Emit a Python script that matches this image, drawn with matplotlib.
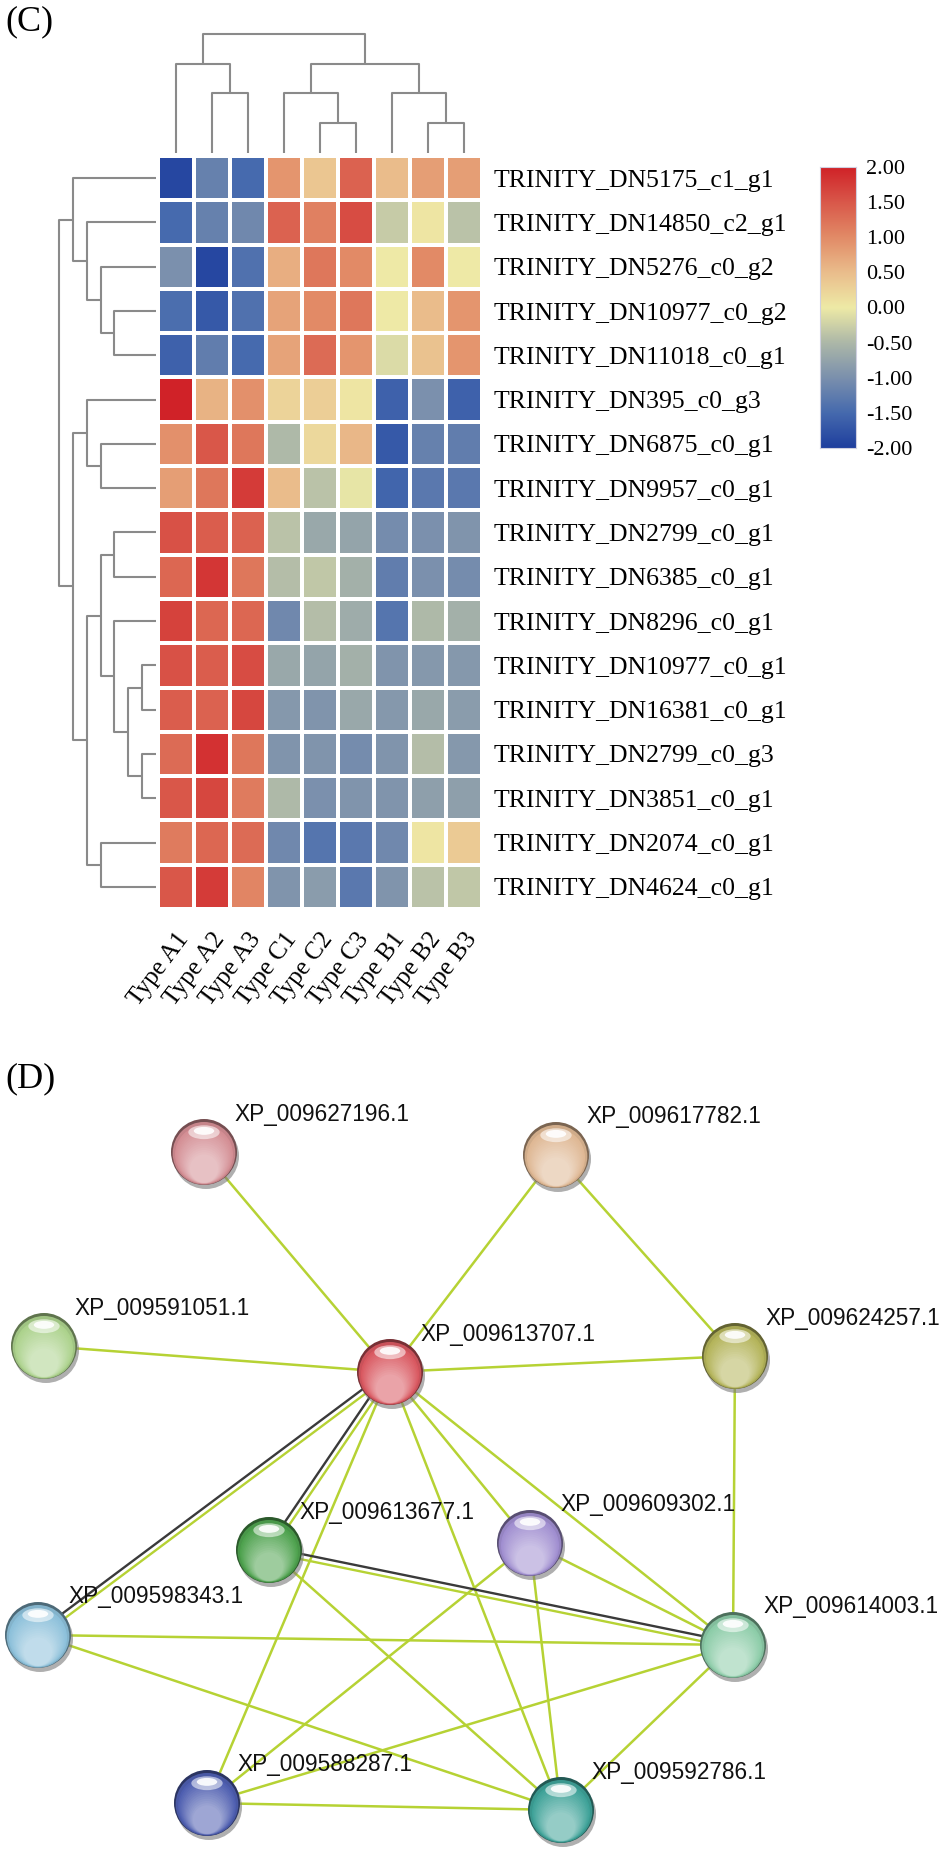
import matplotlib
matplotlib.use("Agg")
import matplotlib.pyplot as plt
import numpy as np
from matplotlib.colors import LinearSegmentedColormap, to_rgb
from matplotlib.patches import Circle, Ellipse

W, H = 950, 1853

# ---- panel C: clustered heatmap ----
genes = [
    "TRINITY_DN5175_c1_g1", "TRINITY_DN14850_c2_g1", "TRINITY_DN5276_c0_g2",
    "TRINITY_DN10977_c0_g2", "TRINITY_DN11018_c0_g1", "TRINITY_DN395_c0_g3",
    "TRINITY_DN6875_c0_g1", "TRINITY_DN9957_c0_g1", "TRINITY_DN2799_c0_g1",
    "TRINITY_DN6385_c0_g1", "TRINITY_DN8296_c0_g1", "TRINITY_DN10977_c0_g1",
    "TRINITY_DN16381_c0_g1", "TRINITY_DN2799_c0_g3", "TRINITY_DN3851_c0_g1",
    "TRINITY_DN2074_c0_g1", "TRINITY_DN4624_c0_g1",
]
samples = ["Type A1", "Type A2", "Type A3", "Type C1", "Type C2", "Type C3",
           "Type B1", "Type B2", "Type B3"]
expr = np.array([
    [-1.90, -1.20, -1.50, 0.90, 0.40, 1.40, 0.50, 0.80, 0.80],
    [-1.50, -1.20, -1.10, 1.40, 1.10, 1.60, -0.30, 0.05, -0.40],
    [-1.00, -1.90, -1.40, 0.65, 1.20, 1.00, 0.00, 1.00, 0.00],
    [-1.45, -1.70, -1.40, 0.75, 1.00, 1.20, 0.00, 0.50, 0.90],
    [-1.60, -1.25, -1.50, 0.75, 1.30, 0.90, -0.15, 0.45, 0.90],
    [2.00, 0.60, 0.95, 0.25, 0.30, 0.05, -1.60, -1.00, -1.60],
    [0.95, 1.50, 1.20, -0.50, 0.20, 0.55, -1.70, -1.20, -1.25],
    [0.80, 1.20, 1.75, 0.50, -0.40, -0.05, -1.55, -1.30, -1.30],
    [1.55, 1.45, 1.40, -0.40, -0.70, -0.75, -1.05, -1.00, -0.95],
    [1.35, 1.80, 1.20, -0.45, -0.35, -0.60, -1.25, -1.00, -1.05],
    [1.70, 1.35, 1.35, -1.10, -0.45, -0.65, -1.35, -0.50, -0.60],
    [1.55, 1.45, 1.60, -0.70, -0.75, -0.60, -0.95, -0.90, -0.90],
    [1.45, 1.40, 1.65, -0.90, -0.95, -0.70, -0.90, -0.70, -0.85],
    [1.30, 1.85, 1.20, -0.95, -0.95, -1.05, -0.95, -0.45, -0.90],
    [1.50, 1.65, 1.15, -0.50, -1.00, -0.95, -0.95, -0.80, -0.80],
    [1.15, 1.35, 1.30, -1.10, -1.35, -1.30, -1.10, 0.05, 0.35],
    [1.50, 1.75, 1.05, -0.95, -0.85, -1.30, -0.95, -0.40, -0.35],
])

# merges as (left, right, height); new clusters numbered n, n+1, ...
row_merges = [
    (3, 4, 3), (2, 17, 4), (1, 18, 5), (0, 19, 6),
    (6, 7, 4), (5, 21, 5),
    (8, 9, 3), (11, 12, 1), (13, 14, 1), (24, 25, 2), (10, 26, 3),
    (23, 27, 4), (15, 16, 4), (28, 29, 5), (22, 30, 6), (20, 31, 7),
]
col_merges = [
    (1, 2, 2), (0, 9, 3), (4, 5, 1), (3, 11, 2),
    (7, 8, 1), (6, 13, 2), (12, 14, 3), (10, 15, 4),
]
cbar_ticks = [2.0, 1.5, 1.0, 0.5, 0.0, -0.5, -1.0, -1.5, -2.0]

# ---- panel D: interaction network ----
proteins = [
    "XP_009627196.1", "XP_009617782.1", "XP_009591051.1", "XP_009613707.1",
    "XP_009624257.1", "XP_009613677.1", "XP_009609302.1", "XP_009598343.1",
    "XP_009614003.1", "XP_009588287.1", "XP_009592786.1",
]
prot_x = [204, 556, 44, 390, 735, 269, 530, 38, 733, 207, 561]
prot_y = [1152, 1155, 1346, 1372, 1356, 1550, 1543, 1635, 1645, 1803, 1810]
prot_color = ["#d48e94", "#dfb894", "#acd28c", "#d95860", "#b4b45a", "#4ea24e",
              "#a08ed0", "#8cc0da", "#8ccca8", "#4e5eb0", "#3ea298"]
edges = [
    (0, 3), (1, 3), (1, 4), (2, 3), (3, 4), (4, 8), (3, 9), (3, 10), (3, 6),
    (3, 8), (5, 10), (6, 8), (6, 9), (6, 10), (7, 8), (7, 10), (8, 9),
    (8, 10), (9, 10),
]
edges_with_black = [(3, 7), (3, 5), (8, 5)]

plt.rcParams["axes.unicode_minus"] = False
SERIF = "Liberation Serif"
SANS = "Liberation Sans"

fig = plt.figure(figsize=(W / 100, H / 100), dpi=100)


def px_axes(left, top, right, bottom):
    return fig.add_axes([left / W, 1 - bottom / H, (right - left) / W, (bottom - top) / H])


def dendro_segments(merges, n):
    pos = {i: i + 0.5 for i in range(n)}
    hgt = {i: 0.0 for i in range(n)}
    segs = []
    for k, (a, b, h) in enumerate(merges):
        segs.append(([pos[a], pos[a], pos[b], pos[b]], [hgt[a], h, h, hgt[b]]))
        pos[n + k] = (pos[a] + pos[b]) / 2
        hgt[n + k] = h
    return segs


cmap = LinearSegmentedColormap.from_list("expr", [
    (0.000, "#1f3f9e"), (0.125, "#466aae"), (0.250, "#7b90ad"), (0.375, "#adb8a8"),
    (0.500, "#eeeaa6"), (0.625, "#eabd8c"), (0.750, "#e28b67"), (0.875, "#d9584a"),
    (1.000, "#d02228"),
])

n_rows, n_cols = expr.shape
ax = px_axes(158, 156, 482, 909)
ax.pcolormesh(np.arange(n_cols + 1), np.arange(n_rows + 1), expr, cmap=cmap,
              vmin=-2, vmax=2, edgecolors="white", linewidth=1.6)
ax.set_xlim(0, n_cols)
ax.set_ylim(n_rows, 0)
for s in ax.spines.values():
    s.set_visible(False)
ax.yaxis.tick_right()
ax.set_yticks(np.arange(n_rows) + 0.5)
ax.set_yticklabels(genes, family=SERIF, fontsize=18.5)
ax.set_xticks(np.arange(n_cols) + 0.5)
ax.set_xticklabels(samples, family=SERIF, fontsize=18, rotation=53,
                   ha="right", va="top", rotation_mode="anchor")
ax.tick_params(axis="y", length=0, pad=8)
ax.tick_params(axis="x", length=0, pad=14)

dcol = "#8a8a8a"
axc = px_axes(158, 34, 482, 153)
for xs, ys in dendro_segments(col_merges, n_cols):
    axc.plot(xs, ys, color=dcol, lw=1.5, clip_on=False, solid_capstyle="butt")
axc.set_xlim(0, n_cols)
axc.set_ylim(0, 4)
axc.axis("off")

axr = px_axes(59, 156, 156, 909)
for ys, xs in dendro_segments(row_merges, n_rows):
    axr.plot(xs, ys, color=dcol, lw=1.5, clip_on=False, solid_capstyle="butt")
axr.set_ylim(n_rows, 0)
axr.set_xlim(7, 0)
axr.axis("off")

axb = px_axes(820, 167, 856, 448)
grad = np.linspace(2, -2, 256).reshape(-1, 1)
axb.imshow(grad, cmap=cmap, vmin=-2, vmax=2, aspect="auto", extent=(0, 1, -2, 2))
axb.set_xticks([])
axb.yaxis.tick_right()
axb.set_yticks(cbar_ticks)
axb.set_yticklabels([f"{t:.2f}" for t in cbar_ticks], family=SERIF, fontsize=16)
axb.tick_params(axis="y", length=0, pad=7)
for s in axb.spines.values():
    s.set_color("#d0d0e0")
    s.set_linewidth(0.8)

fig.text(5 / W, 1 - 22 / H, "(C)", family=SERIF, fontsize=26, va="center", ha="left")
fig.text(5 / W, 1 - 1079 / H, "(D)", family=SERIF, fontsize=26, va="center", ha="left")

# ---- network ----
axn = px_axes(0, 1040, W, H)
axn.set_xlim(0, W)
axn.set_ylim(H, 1040)
axn.axis("off")

green = "#b6d234"
for a, b in edges:
    axn.plot([prot_x[a], prot_x[b]], [prot_y[a], prot_y[b]], color=green, lw=1.8, zorder=1)
for a, b in edges_with_black:
    dx, dy = prot_x[b] - prot_x[a], prot_y[b] - prot_y[a]
    nx, ny = -dy / np.hypot(dx, dy) * 2.6, dx / np.hypot(dx, dy) * 2.6
    axn.plot([prot_x[a] + nx, prot_x[b] + nx], [prot_y[a] + ny, prot_y[b] + ny],
             color="#3a3a3a", lw=1.7, zorder=1)
    axn.plot([prot_x[a] - nx, prot_x[b] - nx], [prot_y[a] - ny, prot_y[b] - ny],
             color=green, lw=1.7, zorder=1)


def sphere(x, y, r, color):
    base = np.array(to_rgb(color))
    dark = base * 0.55
    light = 1 - (1 - base) * 0.55
    axn.add_patch(Circle((x + 2, y + 4), r, color="#7a7a7a", alpha=0.6, lw=0, zorder=3))
    axn.add_patch(Circle((x, y), r, color=dark, lw=0, zorder=3))
    axn.add_patch(Circle((x, y + 0.04 * r), 0.95 * r, color=base * 0.85 + dark * 0.15,
                         lw=0, zorder=3))
    steps = 14
    for i in range(steps):
        t = i / (steps - 1)
        axn.add_patch(Circle((x, y + r * (0.08 + 0.42 * t)), r * (0.88 - 0.45 * t),
                             color=base * (1 - t) + light * t, lw=0, zorder=3))
    axn.add_patch(Ellipse((x, y - 0.6 * r), 0.95 * r, 0.42 * r, color="white",
                          alpha=0.55, lw=0, zorder=3))
    axn.add_patch(Ellipse((x, y - 0.64 * r), 0.62 * r, 0.24 * r, color="white",
                          alpha=0.9, lw=0, zorder=3))


for name, x, y, c in zip(proteins, prot_x, prot_y, prot_color):
    sphere(x, y, 33, c)
    axn.text(x + 30, y - 38, name, family=SANS, fontsize=16.3, ha="left",
             va="center", color="#111111", zorder=4)

fig.savefig("out.png", dpi=100)
